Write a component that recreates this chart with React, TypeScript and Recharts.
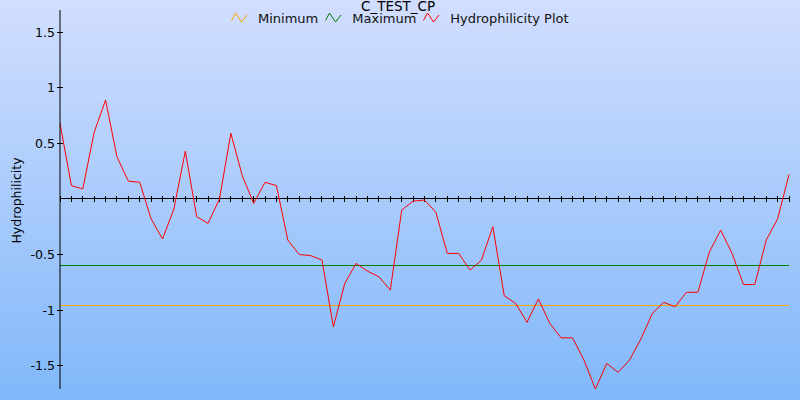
import React from 'react';
import { LineChart, Line, XAxis, YAxis, ReferenceLine } from 'recharts';

// hydrophilicity per residue
const hydrophilicity = [
  0.68, 0.12, 0.09, 0.6, 0.89, 0.38, 0.16, 0.15, -0.18, -0.36,
  -0.09, 0.43, -0.16, -0.22, 0.0, 0.59, 0.21, -0.04, 0.15, 0.12,
  -0.37, -0.5, -0.51, -0.55, -1.15, -0.76, -0.58, -0.65, -0.7, -0.82,
  -0.1, -0.02, -0.01, -0.12, -0.49, -0.49, -0.64, -0.55, -0.25, -0.87,
  -0.94, -1.11, -0.9, -1.12, -1.25, -1.25, -1.45, -1.71, -1.48, -1.56,
  -1.45, -1.26, -1.03, -0.93, -0.97, -0.84, -0.84, -0.48, -0.28, -0.49,
  -0.77, -0.77, -0.37, -0.18, 0.22,
];
const residues = hydrophilicity.map((_, i) => i + 1);
const minimumValue = -0.96;
const maximumValue = -0.6;
const yTicks = [-1.5, -1, -0.5, 0.5, 1, 1.5];

const chartData = residues.map((pos, i) => ({
  pos,
  value: hydrophilicity[i],
  minimum: minimumValue,
  maximum: maximumValue,
}));

const FONT = '"DejaVu Sans", Verdana, sans-serif';

const legendItems = [
  { name: 'Minimum', color: '#ffa500' },
  { name: 'Maximum', color: '#008000' },
  { name: 'Hydrophilicity Plot', color: '#ff0000' },
];

function YTick(props: any) {
  const { x, y, payload } = props;
  return (
    <g>
      <line x1={x - 3} x2={x + 3} y1={y} y2={y} stroke="#000" shapeRendering="crispEdges" />
      <text x={x - 5} y={y} dy="0.36em" textAnchor="end" fontSize={12.5} fontFamily={FONT} fill="#000">
        {payload.value}
      </text>
    </g>
  );
}

function YLabel(props: any) {
  const vb = props.viewBox || { x: 0, y: 10, width: 60, height: 379 };
  const cx = vb.x + 16;
  const cy = vb.y + vb.height / 2 + 1;
  return (
    <text
      x={cx}
      y={cy}
      transform={`rotate(-90 ${cx} ${cy})`}
      textAnchor="middle"
      dominantBaseline="central"
      fontSize={12.5}
      fontFamily={FONT}
      fill="#000"
    >
      Hydrophilicity
    </text>
  );
}

function ZigZag({ color }: { color: string }) {
  return (
    <svg width={17} height={11} style={{ display: 'block' }}>
      <polyline points="0.5,8.5 4.5,1 10.5,10 16,3" fill="none" stroke={color} strokeWidth={1} />
    </svg>
  );
}

export default function App() {
  return (
    <div
      style={{
        position: 'fixed',
        left: 0,
        top: 0,
        width: 800,
        height: 400,
        background: 'linear-gradient(to bottom, #d2defe 0%, #80b8fa 100%)',
        fontFamily: FONT,
        overflow: 'hidden',
      }}
    >
      <div
        style={{
          position: 'absolute',
          top: -1,
          left: 0,
          width: 796,
          textAlign: 'center',
          fontSize: 13.5,
          lineHeight: '15px',
          color: '#000',
        }}
      >
        C_TEST_CP
      </div>
      <div
        style={{
          position: 'absolute',
          top: 11,
          left: 231,
          display: 'flex',
          alignItems: 'flex-start',
          fontSize: 13,
          lineHeight: '15px',
          color: '#111',
          whiteSpace: 'nowrap',
        }}
      >
        {legendItems.map((item) => (
          <div key={item.name} style={{ display: 'flex', alignItems: 'flex-start', marginRight: 7 }}>
            <div style={{ marginTop: 1, marginRight: 10 }}>
              <ZigZag color={item.color} />
            </div>
            <span>{item.name}</span>
          </div>
        ))}
      </div>
      <div style={{ position: 'absolute', left: 0, top: 0 }}>
        <LineChart width={800} height={400} data={chartData} margin={{ top: 10, right: 11, bottom: 11, left: 0 }}>
          <XAxis dataKey="pos" hide />
          <YAxis
            width={60}
            domain={[-1.71, 1.7]}
            ticks={yTicks}
            interval={0}
            tickSize={0}
            tickMargin={0}
            tickLine={false}
            axisLine={{ stroke: '#000', strokeWidth: 1 }}
            tick={<YTick />}
            label={{ content: <YLabel /> }}
          />
          <ReferenceLine y={0} stroke="#000" strokeWidth={1} shapeRendering="crispEdges" />
          {residues.map((pos) => (
            <ReferenceLine
              key={`tick-${pos}`}
              segment={[
                { x: pos, y: -0.027 },
                { x: pos, y: 0.027 },
              ]}
              stroke="#000"
              strokeWidth={1}
              shapeRendering="crispEdges"
            />
          ))}
          <Line
            type="linear"
            dataKey="minimum"
            name="Minimum"
            stroke="#ffa500"
            strokeWidth={1}
            shapeRendering="crispEdges"
            dot={false}
            activeDot={false}
            isAnimationActive={false}
          />
          <Line
            type="linear"
            dataKey="maximum"
            name="Maximum"
            stroke="#008000"
            strokeWidth={1.2}
            shapeRendering="crispEdges"
            dot={false}
            activeDot={false}
            isAnimationActive={false}
          />
          <Line
            type="linear"
            dataKey="value"
            name="Hydrophilicity Plot"
            stroke="#ff0000"
            strokeWidth={1}
            dot={false}
            activeDot={false}
            isAnimationActive={false}
          />
        </LineChart>
      </div>
    </div>
  );
}
